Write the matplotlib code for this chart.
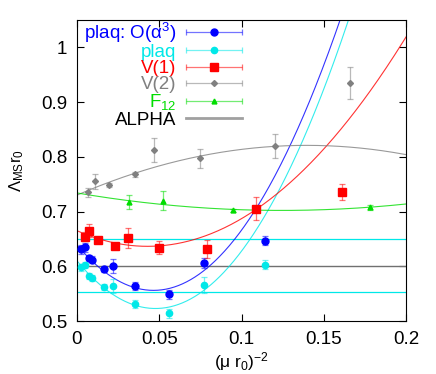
import numpy as np
import matplotlib
matplotlib.use("Agg")
import matplotlib.pyplot as plt
from matplotlib.container import ErrorbarContainer
from matplotlib.legend_handler import HandlerErrorbar
from matplotlib.lines import Line2D

plt.rcParams['font.family'] = ['Liberation Sans', 'DejaVu Sans']
plt.rcParams['mathtext.fontset'] = 'custom'
plt.rcParams['mathtext.rm'] = 'Liberation Sans'
plt.rcParams['mathtext.it'] = 'Liberation Sans:italic'

# plaq: O(alpha^3)
plaq3_x = [0.0022, 0.0050, 0.0071, 0.0091, 0.0164, 0.0220, 0.0350, 0.0560, 0.0770, 0.1140]
plaq3_y = [0.631, 0.635, 0.615, 0.612, 0.595, 0.600, 0.564, 0.549, 0.606, 0.647]
plaq3_e = [0.008, 0.008, 0.006, 0.006, 0.006, 0.013, 0.008, 0.008, 0.010, 0.008]

# plaq
plaq_x = [0.0026, 0.0047, 0.0071, 0.0091, 0.0164, 0.0220, 0.0350, 0.0560, 0.0770, 0.1140]
plaq_y = [0.598, 0.602, 0.582, 0.579, 0.562, 0.564, 0.531, 0.514, 0.566, 0.603]
plaq_e = [0.006, 0.006, 0.005, 0.005, 0.005, 0.012, 0.007, 0.008, 0.014, 0.008]

# V(1)
v1_x = [0.0047, 0.0075, 0.0128, 0.0233, 0.0310, 0.0497, 0.0790, 0.1090, 0.1610]
v1_y = [0.654, 0.665, 0.648, 0.637, 0.652, 0.634, 0.632, 0.705, 0.736]
v1_e = [0.008, 0.012, 0.004, 0.005, 0.018, 0.012, 0.016, 0.021, 0.014]

# V(2)
v2_x = [0.0067, 0.0107, 0.0193, 0.0355, 0.0470, 0.0748, 0.1206, 0.1660]
v2_y = [0.735, 0.755, 0.749, 0.768, 0.813, 0.797, 0.819, 0.935]
v2_e = [0.008, 0.014, 0.004, 0.005, 0.022, 0.017, 0.022, 0.029]

# F12
f12_x = [0.0314, 0.0520, 0.0946, 0.1780]
f12_y = [0.718, 0.720, 0.702, 0.7075]
f12_e = [0.013, 0.017, 0.003, 0.004]

# quadratic fit coefficients c0 + c1 x + c2 x^2
plaq3_fit = [0.639, -3.571, 38.4]
plaq_fit = [0.610, -3.654, 38.3]
v1_fit = [0.665, -1.33, 15.5]
v2_fit = [0.730, 1.302, -4.66]
f12_fit = [0.734, -0.513, 2.06]

# ALPHA result and band
alpha_val = 0.600
alpha_band = [0.553, 0.650]

blue, cyan, red, gray, green = '#0000ff', '#00e8e8', '#ff0000', '#808080', '#00dd00'

fig = plt.figure(figsize=(4.36, 3.74), dpi=100)
ax = fig.add_axes([0.1766, 0.1417, 0.7546, 0.8048])

xs = np.linspace(0, 0.2, 400)

def quad(c):
    return c[0] + c[1] * xs + c[2] * xs ** 2

# ALPHA lines
for b in alpha_band:
    ax.axhline(b, color=cyan, lw=0.9)
ax.axhline(alpha_val, color='#707070', lw=1.0)

# fit curves
for c, col in [(plaq3_fit, blue), (plaq_fit, cyan), (v1_fit, red), (v2_fit, gray), (f12_fit, green)]:
    ax.plot(xs, quad(c), color=col, lw=0.8, alpha=0.8)

series = [
    (plaq3_x, plaq3_y, plaq3_e, blue, 'o', 5.0),
    (plaq_x, plaq_y, plaq_e, cyan, 'o', 4.5),
    (v1_x, v1_y, v1_e, red, 's', 5.5),
    (v2_x, v2_y, v2_e, gray, 'D', 3.0),
    (f12_x, f12_y, f12_e, green, '^', 3.5),
]
for x, y, e, col, m, ms in series:
    eb = ax.errorbar(x, y, yerr=e, fmt=m, color=col, ms=ms, capsize=2.5,
                     elinewidth=0.9, capthick=0.9, zorder=3)
    for art in list(eb[1]) + list(eb[2]):
        art.set_alpha(0.55)

# legend proxies (horizontal error bars as in gnuplot keys)
labels = [r'plaq: O(α$^3$)', 'plaq', 'V(1)', 'V(2)', r'F$_{12}$']
handles = []
for (x, y, e, col, m, ms), lab in zip(series, labels):
    h = ax.errorbar([np.nan], [np.nan], xerr=[1.0], fmt=m, color=col, ms=ms,
                    capsize=2.5, elinewidth=0.9, capthick=0.9)
    for art in list(h[1]) + list(h[2]):
        art.set_alpha(0.55)
    handles.append(h)
handles.append(Line2D([], [], color='#a0a0a0', lw=2))
labels.append('ALPHA')

leg = ax.legend(handles, labels, loc='upper left', bbox_to_anchor=(0.02, 0.998),
                frameon=False, markerfirst=False, fontsize=13.5, handlelength=3.0,
                handletextpad=0.5, labelspacing=-0.05, borderpad=0, borderaxespad=0,
                handler_map={ErrorbarContainer: HandlerErrorbar(xerr_size=1.5, numpoints=1)})
for t, c in zip(leg.get_texts(), [blue, cyan, red, gray, green, 'black']):
    t.set_color(c)

ax.set_xlim(0, 0.2)
ax.set_ylim(0.5, 1.05)
ax.set_xticks([0, 0.05, 0.1, 0.15, 0.2])
ax.set_xticklabels(['0', '0.05', '0.1', '0.15', '0.2'])
ax.set_yticks([0.5, 0.6, 0.7, 0.8, 0.9, 1.0])
ax.set_yticklabels(['0.5', '0.6', '0.7', '0.8', '0.9', '1'])
ax.tick_params(direction='in', top=True, right=True, length=5, labelsize=13.5, pad=7)
ax.set_xlabel(r'(μ r$_0$)$^{-2}$', fontsize=12.5, labelpad=2)
ax.set_ylabel(r'Λ$_{\rm MS}$r$_0$', fontsize=12)
ax.yaxis.set_label_coords(-0.155, 0.50)

fig.savefig('out.png', dpi=100)
